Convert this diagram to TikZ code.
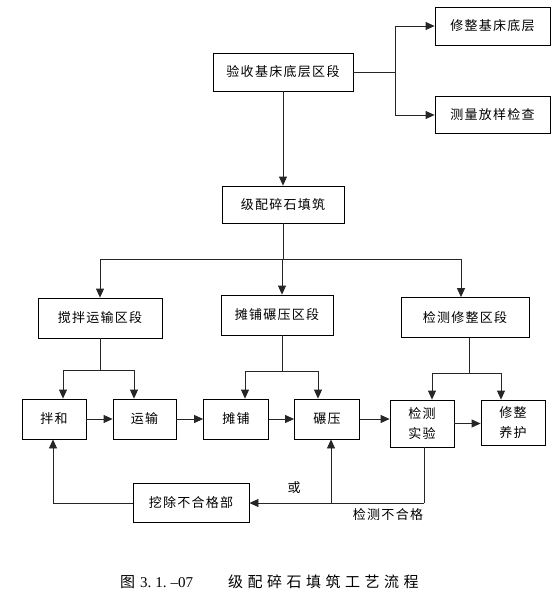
\documentclass[tikz,border=0pt]{standalone}
\usepackage{fontspec}
\newfontfamily\cjk[LetterSpace=10]{Noto Sans CJK SC}
\newfontfamily\cjkcap[LetterSpace=30]{Noto Sans CJK SC}
\newfontfamily\cjknum{Noto Sans CJK SC}
\newfontfamily\capnum{Liberation Serif}
\usetikzlibrary{arrows.meta}
\begin{document}
\begin{tikzpicture}[x=1pt,y=-1pt,
  box/.style={draw,line width=0.8pt,inner sep=0pt,font=\cjk\fontsize{13}{20}\selectfont,align=center},
  ln/.style={line width=0.8pt,draw=black!85},
  arr/.style={ln,-{Triangle[length=9pt,width=8pt]}},
  lbl/.style={font=\cjk\fontsize{13}{15}\selectfont,inner sep=0pt}]
\useasboundingbox (0,0) rectangle (553,603);
% top
\node[box,minimum width=140pt,minimum height=38pt] (A) at (283,72) {验收基床底层区段};
\node[box,minimum width=115pt,minimum height=38pt] (B) at (492.5,26) {修整基床底层};
\node[box,minimum width=115pt,minimum height=37pt] (C) at (492.5,114.5) {测量放样检查};
\node[box,minimum width=122pt,minimum height=37pt] (D) at (283,204.5) {级配碎石填筑};
% sections
\node[box,minimum width=124pt,minimum height=40pt] (E) at (100,318) {搅拌运输区段};
\node[box,minimum width=112pt,minimum height=40pt] (F) at (277,315) {摊铺碾压区段};
\node[box,minimum width=128pt,minimum height=40pt] (G) at (465,317.5) {检测修整区段};
% row
\node[box,minimum width=64pt,minimum height=40pt] (H) at (54,419) {拌和};
\node[box,minimum width=63pt,minimum height=40pt] (I) at (144.5,419) {运输};
\node[box,minimum width=65pt,minimum height=40pt] (J) at (236,419) {摊铺};
\node[box,minimum width=65pt,minimum height=40pt] (K) at (327,419) {碾压};
\node[box,minimum width=64pt,minimum height=47pt] (L) at (422,423.5) {检测\\实验};
\node[box,minimum width=64pt,minimum height=45pt] (M) at (513,422.5) {修整\\养护};
\node[box,minimum width=116pt,minimum height=39pt] (N) at (191,502.5) {挖除不合格部};
% labels
\node[lbl] (or) at (294,488) {或};
\node[lbl] (fail) at (388,515) {检测不合格};
\node[font=\fontsize{15}{18}\selectfont,anchor=west,inner sep=0pt] (cap1) at (120,582) {{\cjknum 图}\hspace{5pt}{\capnum 3.\hspace{4pt}1.\hspace{4pt}\textendash 07}};
\node[font=\cjkcap\fontsize{15}{18}\selectfont,anchor=west,inner sep=0pt] (cap2) at (228,582) {级配碎石填筑工艺流程};
% coordinates
\coordinate (j1) at (395,72);
\coordinate (j1t) at (395,26);
\coordinate (j1b) at (395,115);
\coordinate (j2) at (283,259);
\coordinate (j2l) at (100,259);
\coordinate (j2m) at (282,259);
\coordinate (j2r) at (461,259);
\coordinate (e1) at (100,370);
\coordinate (e1l) at (63,370);
\coordinate (e1r) at (134,370);
\coordinate (f1) at (282,371);
\coordinate (f1l) at (245,371);
\coordinate (f1r) at (318,371);
\coordinate (g1) at (469,373);
\coordinate (g1l) at (432,373);
\coordinate (g1r) at (501,373);
\coordinate (b1) at (424,503);
\coordinate (b2) at (331,503);
\coordinate (b3) at (53,503);
% top connectors
\draw[ln] (A.east) -- (j1);
\draw[ln] (j1t) -- (j1b);
\draw[arr] (j1t) -- (B.west);
\draw[arr] (j1b) -- (C.west |- j1b);
\draw[arr] (A.south) -- (D.north);
\draw[ln] (D.south) -- (j2);
\draw[ln] (j2l) -- (j2r);
\draw[arr] (j2l) -- (j2l |- E.north);
\draw[arr] (j2m) -- (j2m |- F.north);
\draw[arr] (j2r) -- (j2r |- G.north);
% section branches
\draw[ln] (e1 |- E.south) -- (e1);
\draw[ln] (e1l) -- (e1r);
\draw[arr] (e1l) -- (e1l |- H.north);
\draw[arr] (e1r) -- (e1r |- I.north);
\draw[ln] (f1 |- F.south) -- (f1);
\draw[ln] (f1l) -- (f1r);
\draw[arr] (f1l) -- (f1l |- J.north);
\draw[arr] (f1r) -- (f1r |- K.north);
\draw[ln] (g1 |- G.south) -- (g1);
\draw[ln] (g1l) -- (g1r);
\draw[arr] (g1l) -- (g1l |- L.north);
\draw[arr] (g1r) -- (g1r |- M.north);
% row arrows
\draw[arr] (H.east) -- (I.west);
\draw[arr] (I.east) -- (J.west);
\draw[arr] (J.east) -- (K.west);
\draw[arr] (K.east) -- (K.east -| L.west);
\draw[arr] (L.east) -- (L.east -| M.west);
% feedback
\draw[ln] (b1 |- L.south) -- (b1);
\draw[arr] (b1) -- (N.east |- b1);
\draw[arr] (b2) -- (b2 |- K.south);
\draw[ln] (N.west |- b3) -- (b3);
\draw[arr] (b3) -- (b3 |- H.south);
\end{tikzpicture}
\end{document}
